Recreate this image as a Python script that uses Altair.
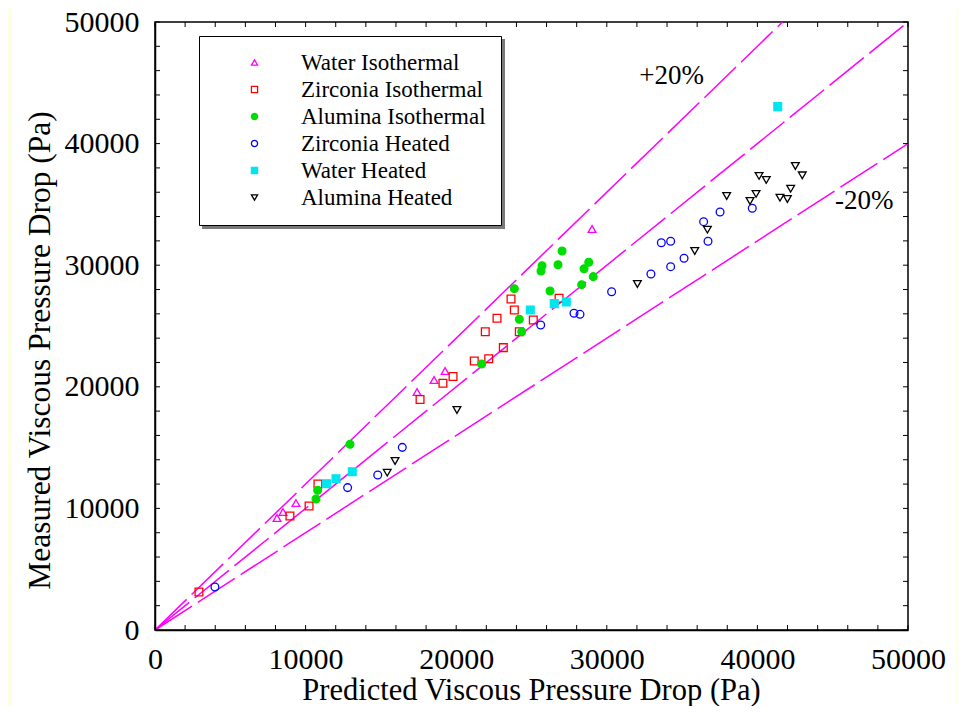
import altair as alt
import pandas as pd

series_names = ["Water Isothermal", "Zirconia Isothermal", "Alumina Isothermal",
                "Zirconia Heated", "Water Heated", "Alumina Heated"]
stroke_colors = ["#ff00ff", "#ff0000", "#00dd00", "#0000ff", "#00e5ee", "#000000"]
fill_colors = ["transparent", "transparent", "#00dd00", "transparent", "#00e5ee", "transparent"]
shapes = ["triangle-up", "square", "circle", "circle", "square", "triangle-down"]

water_iso_x = [8100, 8500, 9360, 17400, 18530, 19260, 29020]
water_iso_y = [9210, 9700, 10440, 19570, 20560, 21300, 32980]

zr_iso_x = [2920, 8960, 10230, 10820, 17600, 19120, 19790, 21200, 22160, 23130, 21930,
            22710, 23860, 23640, 24190, 25120, 26830]
zr_iso_y = [3120, 9380, 10200, 12000, 18950, 20300, 20850, 22120, 22310, 23220, 24530,
            25630, 26320, 27220, 24530, 25490, 27280]

al_iso_x = [10690, 10800, 12950, 21690, 24350, 24190, 23860, 26230, 28330, 25700, 25630,
            26760, 27030, 28490, 28800, 29100]
al_iso_y = [10770, 11490, 15270, 21880, 24530, 25550, 28070, 27880, 28400, 29960, 29520,
            30040, 31170, 29710, 30240, 29060]

zr_heat_x = [3980, 12790, 14790, 16420, 25610, 27820, 28220, 30320, 32930, 34240, 35130,
             33620, 34240, 36720, 36430, 37520, 39660]
zr_heat_y = [3540, 11710, 12750, 15020, 25080, 26050, 25960, 27820, 29280, 29880, 30570,
             31850, 31970, 31970, 33580, 34380, 34680]

water_heat_x = [11400, 12020, 13100, 24920, 26510, 27310, 41350]
water_heat_y = [12030, 12440, 13020, 26320, 26840, 26970, 43040]

al_heat_x = [15420, 15940, 20050, 32030, 35840, 36680, 37960, 39510, 39910, 40110, 40590,
             41500, 41990, 42210, 42520, 42980]
al_heat_y = [12940, 13900, 18090, 28450, 31170, 32920, 35690, 35280, 35860, 37340, 37010,
             35550, 35440, 36290, 38160, 37390]

# reference lines (y = x, +20 %, -20 %)
line_names = ["equal", "plus20", "minus20"]
line_end_x = [50000, 41667, 50000]
line_end_y = [50000, 50000, 40000]

annot_text = ["+20%", "-20%"]
annot_x = [34300, 47100]
annot_y = [45600, 35300]

axis_label_values = [0, 10000, 20000, 30000, 40000, 50000]
minor_tick_values = list(range(0, 50001, 2000))

FONT = "Liberation Serif"
W, H = 753, 608

all_x = [water_iso_x, zr_iso_x, al_iso_x, zr_heat_x, water_heat_x, al_heat_x]
all_y = [water_iso_y, zr_iso_y, al_iso_y, zr_heat_y, water_heat_y, al_heat_y]
rows = []
for name, xs, ys in zip(series_names, all_x, all_y):
    for xv, yv in zip(xs, ys):
        rows.append({"series": name, "x": xv, "y": yv})
pts = pd.DataFrame(rows)

line_rows = []
for n, ex, ey in zip(line_names, line_end_x, line_end_y):
    line_rows.append({"line": n, "x": 0, "y": 0})
    line_rows.append({"line": n, "x": ex, "y": ey})
lines_df = pd.DataFrame(line_rows)

annot_df = pd.DataFrame({"label": annot_text, "x": annot_x, "y": annot_y})
ticks_df = pd.DataFrame({"x": minor_tick_values, "y": minor_tick_values})

scale = alt.Scale(domain=[0, 50000], nice=False, zero=False)

x_enc = alt.X("x:Q", scale=scale, axis=alt.Axis(
    values=axis_label_values, format="d", ticks=False, grid=False,
    labelFont=FONT, labelFontSize=30, labelColor="black", labelPadding=14,
    labelFlush=False, labelOverlap=False,
    domainColor="black", domainWidth=1.5, zindex=1,
    title="Predicted Viscous Pressure Drop (Pa)", titleFont=FONT, titleFontSize=30.5,
    titleFontWeight="normal", titleColor="black", titleX=376, titleY=60,
    titleBaseline="middle", titleAlign="center"))
y_enc = alt.Y("y:Q", scale=scale, axis=alt.Axis(
    values=axis_label_values, format="d", ticks=False, grid=False,
    labelFont=FONT, labelFontSize=30, labelColor="black", labelPadding=16,
    labelFlush=False, labelOverlap=False,
    domainColor="black", domainWidth=1.5, zindex=1,
    title="Measured Viscous Pressure Drop (Pa)", titleFont=FONT, titleFontSize=31.5,
    titleFontWeight="normal", titleColor="black", titleX=-115, titleY=328,
    titleBaseline="middle", titleAlign="center", titleAngle=270))

lines = alt.Chart(lines_df).mark_line(
    color="#ff00ff", strokeWidth=1.5, strokeDash=[44, 7]
).encode(x=x_enc, y=y_enc, detail="line:N")

legend = alt.Legend(
    title=None, orient="none", legendX=44, legendY=14, direction="vertical",
    fillColor="white", strokeColor="black", padding=15,
    labelFont=FONT, labelFontSize=23, labelColor="black", labelOffset=35,
    labelLimit=400, symbolSize=38, symbolStrokeWidth=1.3, rowPadding=3,
    symbolOffset=29)

points = alt.Chart(pts).mark_point(size=60, strokeWidth=1.3, opacity=1).encode(
    x=x_enc, y=y_enc,
    stroke=alt.Stroke("series:N", scale=alt.Scale(domain=series_names, range=stroke_colors), legend=legend),
    fill=alt.Fill("series:N", scale=alt.Scale(domain=series_names, range=fill_colors), legend=legend),
    shape=alt.Shape("series:N", scale=alt.Scale(domain=series_names, range=shapes), legend=legend),
)

annots = alt.Chart(annot_df).mark_text(font=FONT, fontSize=27, color="black").encode(
    x=x_enc, y=y_enc, text="label:N")

tick_style = dict(color="black", strokeWidth=1)
t_bottom = alt.Chart(ticks_df).mark_rule(**tick_style).encode(x=x_enc, y=alt.value(H), y2=alt.value(H - 5))
t_top = alt.Chart(ticks_df).mark_rule(**tick_style).encode(x=x_enc, y=alt.value(0), y2=alt.value(5))
t_left = alt.Chart(ticks_df).mark_rule(**tick_style).encode(y=y_enc, x=alt.value(0), x2=alt.value(5))
t_right = alt.Chart(ticks_df).mark_rule(**tick_style).encode(y=y_enc, x=alt.value(W), x2=alt.value(W - 5))

one = pd.DataFrame({"s": [1]})
strip_l = alt.Chart(one).mark_rect(color="#ffffe4").encode(
    x=alt.value(-147), x2=alt.value(-143), y=alt.value(-14), y2=alt.value(H + 76))
strip_r = alt.Chart(one).mark_rect(color="#ffffe4").encode(
    x=alt.value(801), x2=alt.value(W + 50), y=alt.value(-14), y2=alt.value(H + 76))
# legend drop shadow (sits under the legend box)
shadow = alt.Chart(one).mark_rect(color="#7a7a7a").encode(
    x=alt.value(47), x2=alt.value(350), y=alt.value(17), y2=alt.value(207))

chart = alt.layer(strip_l, strip_r, lines, t_bottom, t_top, t_left, t_right, points, annots, shadow).properties(
    width=W, height=H,
    autosize=alt.AutoSizeParams(type="none"),
    padding={"left": 147, "top": 14, "right": 50, "bottom": 76},
    background="white",
).configure_view(stroke="black", strokeWidth=1.5, fill="white"
).configure_axis(labelFont=FONT, titleFont=FONT
).configure_legend(labelFont=FONT)

chart.save("out.html", embed_options={"renderer": "svg", "actions": False})
